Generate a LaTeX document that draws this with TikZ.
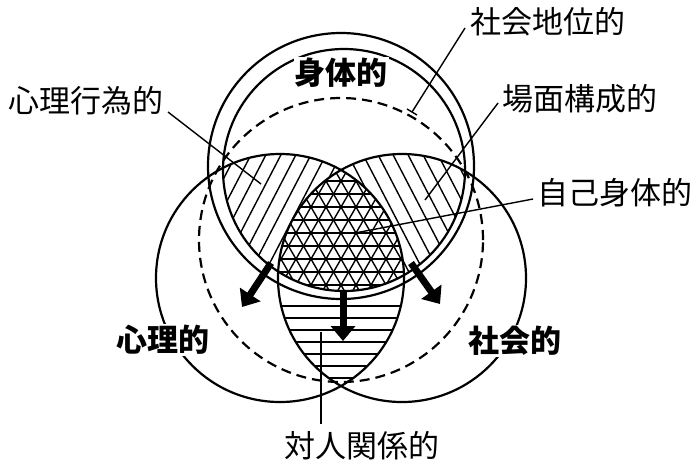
\documentclass[tikz,border=0pt]{standalone}
\usepackage{fontspec}
\setmainfont{Noto Sans CJK JP}
\usetikzlibrary{arrows.meta}
\begin{document}
\begin{tikzpicture}[x=1pt,y=-1pt,
  ring/.style={line width=2.2pt},
  dashring/.style={line width=2.2pt, dash pattern=on 10pt off 6pt},
  hatchline/.style={line width=1.4pt},
  leader/.style={line width=1.4pt},
  lbl/.style={font=\fontsize{31}{31}\selectfont, inner sep=0pt},
  blbl/.style={font=\fontsize{31}{31}\selectfont\bfseries, inner sep=1pt, fill=white},
  bigarrow/.style={line width=7pt, -{Triangle[length=15pt,width=24pt]}},
]
\useasboundingbox (0,0) rectangle (700,467);
\coordinate (T) at (341,166);
\coordinate (Ti) at (344,170);
\coordinate (D) at (341,240);
\coordinate (L) at (280,278);
\coordinate (R) at (402,278);

% left hatch
\begin{scope}
  \clip (Ti) circle[radius=121pt];
  \clip (L) circle[radius=124pt];
  \foreach \x in {40,55,...,460} \draw[hatchline] (\x,330) -- (\x+109,120);
\end{scope}
% right hatch
\begin{scope}
  \clip (Ti) circle[radius=121pt];
  \clip (R) circle[radius=124pt];
  \foreach \x in {180,195,...,600} \draw[hatchline] (\x,120) -- (\x+109,330);
\end{scope}
% center triangular grid
\begin{scope}
  \clip (Ti) circle[radius=121pt];
  \clip (L) circle[radius=124pt];
  \clip (R) circle[radius=124pt];
  \fill[white] (200,100) rectangle (500,320);
  \foreach \k in {-15,...,15} \draw[hatchline] (200,233+\k*13) -- (500,233+\k*13);
  \begin{scope}[shift={(341,233)}, rotate=60]
    \foreach \k in {-15,...,15} \draw[hatchline] (-220,\k*13) -- (220,\k*13);
  \end{scope}
  \begin{scope}[shift={(341,233)}, rotate=-60]
    \foreach \k in {-15,...,15} \draw[hatchline] (-220,\k*13) -- (220,\k*13);
  \end{scope}
\end{scope}
% bottom lens horizontal
\begin{scope}[even odd rule]
  \clip (L) circle[radius=124pt];
  \clip (R) circle[radius=124pt];
  \clip (0,0) rectangle (700,467) (T) circle[radius=133pt];
  \foreach \k in {0,...,8} \draw[hatchline] (250,306+\k*12) -- (440,306+\k*12);
\end{scope}

% circles
\draw[ring] (T) circle[radius=133pt];
\draw[ring] (Ti) circle[radius=121pt];
\draw[dashring] (D) circle[radius=142pt];
\draw[ring] (L) circle[radius=124pt];
\draw[ring] (R) circle[radius=124pt];

% arrows
\coordinate (a1s) at (271,263);
\coordinate (a1e) at (242,307);
\coordinate (a2s) at (343,291);
\coordinate (a2e) at (343,341);
\coordinate (a3s) at (411,263);
\coordinate (a3e) at (440,304);
\draw[bigarrow] (a1s) -- (a1e);
\draw[bigarrow] (a2s) -- (a2e);
\draw[bigarrow] (a3s) -- (a3e);

% labels
\node[lbl] (shakaichii) at (548,22) {社会地位的};
\node[lbl] (bamen) at (580,99) {場面構成的};
\node[lbl] (jiko) at (615,193) {自己身体的};
\node[lbl] (shinrikoi) at (86,101) {心理行為的};
\node[lbl] (taijin) at (362,446) {対人関係的};
\node[blbl] (shintai) at (341,73) {身体的};
\node[blbl] (shinri) at (163,340) {心理的};
\node[blbl] (shakai) at (515,341) {社会的};

% leaders
\coordinate (l1a) at (465,28);
\coordinate (l1b) at (412,112);
\coordinate (l1t1) at (407,109);
\coordinate (l1t2) at (417,115);
\draw[leader] (l1a) -- (l1b);
\draw[leader] (l1t1) -- (l1t2);
\coordinate (l2a) at (498,103);
\coordinate (l2b) at (425,200);
\draw[leader] (l2a) -- (l2b);
\coordinate (l3a) at (533,199);
\coordinate (l3b) at (355,233);
\draw[leader] (l3a) -- (l3b);
\coordinate (l4a) at (168,112);
\coordinate (l4b) at (261,184);
\draw[leader] (l4a) -- (l4b);
\coordinate (l5a) at (321,332);
\coordinate (l5b) at (321,424);
\draw[leader] (l5a) -- (l5b);
\end{tikzpicture}
\end{document}
